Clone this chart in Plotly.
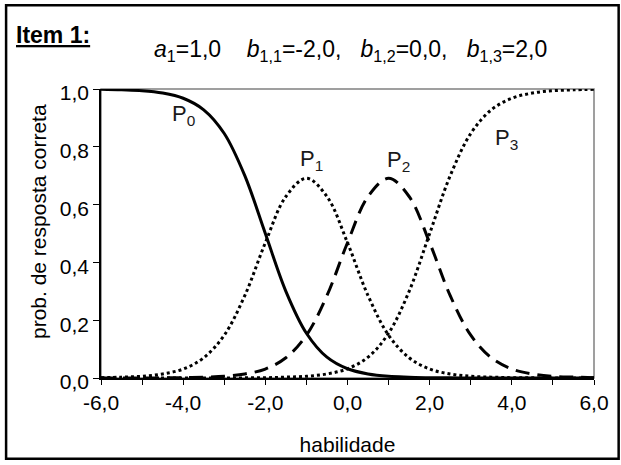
import plotly.graph_objects as go

# ability values (theta) read along the x axis
habilidade = [-6.0, -5.5, -5.0, -4.5, -4.0, -3.5, -3.0, -2.5, -2.0, -1.5, -1.0, -0.5,
              0.0, 0.5, 1.0, 1.5, 2.0, 2.5, 3.0, 3.5, 4.0, 4.5, 5.0, 5.5, 6.0]

# category probabilities
p0 = [0.999, 0.997, 0.994, 0.986, 0.968, 0.928, 0.846, 0.700, 0.500, 0.300, 0.155, 0.072,
      0.032, 0.014, 0.006, 0.003, 0.001, 0.0005, 0.0002, 0.0001, 0.0, 0.0, 0.0, 0.0, 0.0]
p1 = [0.001, 0.003, 0.006, 0.014, 0.031, 0.070, 0.148, 0.285, 0.468, 0.628, 0.691, 0.628,
      0.468, 0.285, 0.148, 0.070, 0.031, 0.014, 0.006, 0.003, 0.001, 0.0005, 0.0002, 0.0001, 0.0]
p2 = [0.0, 0.0001, 0.0002, 0.0005, 0.001, 0.003, 0.006, 0.014, 0.031, 0.070, 0.148, 0.285,
      0.468, 0.628, 0.691, 0.628, 0.468, 0.285, 0.148, 0.070, 0.031, 0.014, 0.006, 0.003, 0.001]
p3 = [0.0, 0.0, 0.0, 0.0, 0.0, 0.0001, 0.0002, 0.0005, 0.001, 0.003, 0.006, 0.014,
      0.032, 0.072, 0.155, 0.300, 0.500, 0.700, 0.846, 0.928, 0.968, 0.986, 0.994, 0.997, 0.999]

x_tickvals = [-6, -5, -4, -3, -2, -1, 0, 1, 2, 3, 4, 5, 6]
x_ticktext = ["-6,0", "", "-4,0", "", "-2,0", "", "0,0", "", "2,0", "", "4,0", "", "6,0"]
y_tickvals = [0.0, 0.2, 0.4, 0.6, 0.8, 1.0]
y_ticktext = ["0,0", "0,2", "0,4", "0,6", "0,8", "1,0"]

curve_labels = ["P<sub>0</sub>", "P<sub>1</sub>", "P<sub>2</sub>", "P<sub>3</sub>"]
label_x = [-4.0, -0.88, 1.24, 3.86]
label_y = [0.91, 0.755, 0.752, 0.828]

FONT = "Liberation Sans, Arial, sans-serif"

fig = go.Figure()
styles = [("solid", p0), ("dot", p1), ("14px,8px", p2), ("dot", p3)]
for name, (dash, ys) in zip(["P0", "P1", "P2", "P3"], styles):
    fig.add_trace(go.Scatter(x=habilidade, y=ys, mode="lines", name=name,
                             line=dict(color="black", width=3, dash=dash, shape="spline"),
                             showlegend=False, hoverinfo="skip"))

for t, lx, ly in zip(curve_labels, label_x, label_y):
    fig.add_annotation(x=lx, y=ly, text=t, showarrow=False,
                       font=dict(family=FONT, size=22, color="#1a1a1a"))

fig.add_annotation(xref="paper", yref="paper", x=-0.1766, y=1.238, xanchor="left",
                   text="<b><u>Item 1:</u></b>", showarrow=False,
                   font=dict(family=FONT, size=23, color="black"))
fig.add_annotation(xref="paper", yref="paper", x=0.506, y=1.19, xanchor="center",
                   text="<i>a</i><sub>1</sub>=1,0    <i>b</i><sub>1,1</sub>=-2,0,   "
                        "<i>b</i><sub>1,2</sub>=0,0,   <i>b</i><sub>1,3</sub>=2,0",
                   showarrow=False, font=dict(family=FONT, size=23, color="black"))
fig.add_annotation(xref="paper", yref="paper", x=-0.127, y=0.541, textangle=-90,
                   xanchor="center", yanchor="middle",
                   text="prob. de resposta correta", showarrow=False,
                   font=dict(family=FONT, size=21, color="black"))

# plot frame (gray top/right) and outer border
fig.add_shape(type="rect", xref="paper", yref="paper", x0=0, y0=0, x1=1, y1=1,
              line=dict(color="#808080", width=1.5), layer="below")
fig.add_shape(type="rect", xref="paper", yref="paper", x0=-0.1925, y0=-0.2793,
              x1=1.05, y1=1.2897, line=dict(color="black", width=2.5))

fig.update_xaxes(range=[-6, 6], tickvals=x_tickvals, ticktext=x_ticktext,
                 showgrid=False, zeroline=False, showline=True, linecolor="black",
                 linewidth=1.5, ticks="outside", ticklen=5, tickcolor="black",
                 tickfont=dict(family=FONT, size=21, color="black"),
                 title=dict(text="habilidade", font=dict(family=FONT, size=21, color="black"),
                            standoff=24))
fig.update_yaxes(range=[0, 1.0], tickvals=y_tickvals, ticktext=y_ticktext,
                 showgrid=False, zeroline=False, showline=True, linecolor="black",
                 linewidth=1.5, ticks="outside", ticklen=6, tickcolor="black",
                 ticklabelshift=4,
                 tickfont=dict(family=FONT, size=21, color="black"))

fig.update_layout(width=621, height=465, plot_bgcolor="white", paper_bgcolor="white",
                  margin=dict(l=101, r=16, t=89, b=86), showlegend=False)

fig.write_html("out.html", config={"displayModeBar": False},
               post_script="document.body.style.margin='0px';")
